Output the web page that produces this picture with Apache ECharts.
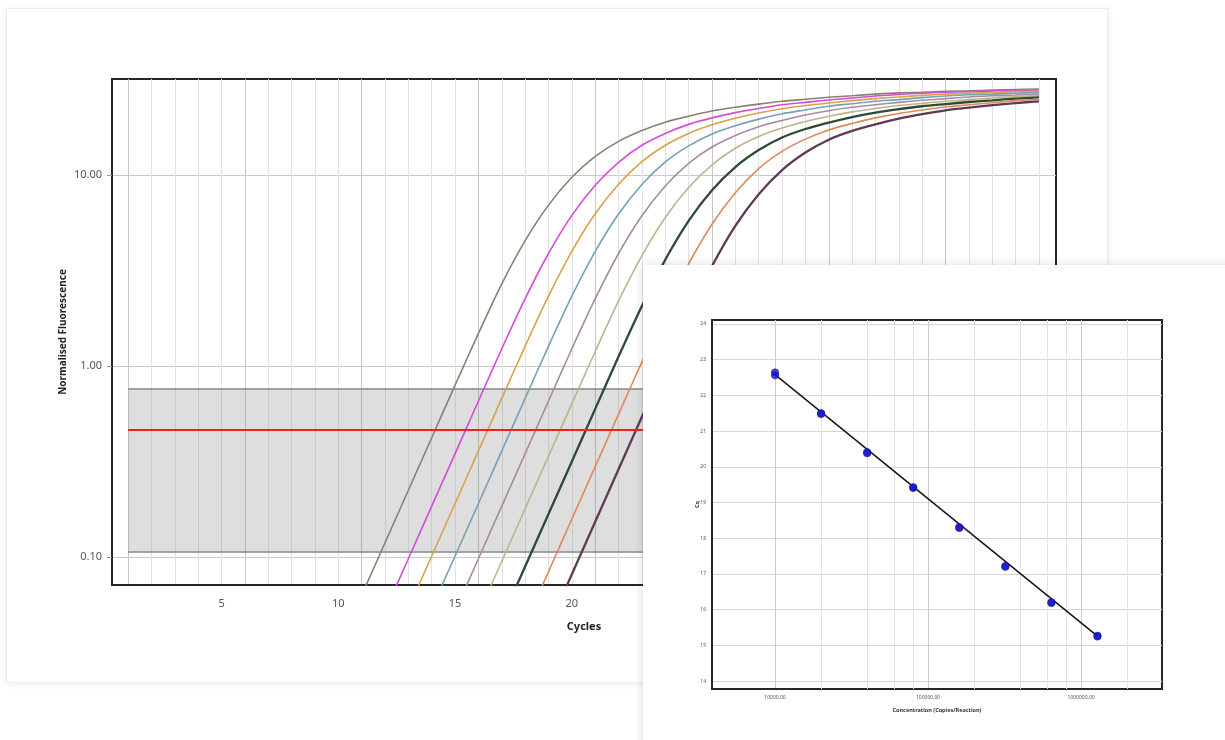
<!DOCTYPE html>
<html><head><meta charset="utf-8">
<script src="https://cdn.jsdelivr.net/npm/echarts@6/dist/echarts.min.js"></script>
<style>
html,body{margin:0;padding:0;background:#fff;width:1225px;height:740px;overflow:hidden;}
#card{position:absolute;left:6px;top:8px;width:1102px;height:675px;background:#fff;border:1px solid #ececec;box-sizing:border-box;box-shadow:0 1px 7px rgba(0,0,0,0.07);}
#main{position:absolute;left:0;top:0;width:1225px;height:740px;}
#insetCard{position:absolute;left:643px;top:265px;width:620px;height:520px;background:#fff;box-shadow:0 0 10px rgba(0,0,0,0.14);}
#inset{position:absolute;left:643px;top:265px;width:582px;height:475px;}
</style></head>
<body>
<div id="card"></div><div id="main"></div><div id="insetCard"></div><div id="inset"></div>
<script>
// ---------- Amplification plot data (Normalised Fluorescence per cycle) ----------
const cycleStart = [10, 12, 13, 14, 15, 16, 17, 18, 19];
const curve1 = [0.0334,0.0630,0.1186,0.2234,0.421,0.793,1.48,2.69,4.53,6.95,9.72,12.5,15.0,17.1,18.9,20.3,21.6,22.6,23.5,24.3,24.9,25.5,26.0,26.5,26.9,27.1,27.4,27.6,27.8,28.0,28.2];
const curve2 = [0.0520,0.0979,0.1845,0.3475,0.655,1.23,2.25,3.88,6.14,8.83,11.65,14.3,16.5,18.4,19.9,21.2,22.3,23.3,24.0,24.7,25.3,25.9,26.4,26.8,27.1,27.3,27.5,27.7,27.9];
const curve3 = [0.0537,0.1012,0.1905,0.359,0.676,1.27,2.32,3.98,6.26,8.95,11.74,14.3,16.5,18.3,19.8,21.1,22.2,23.1,23.8,24.5,25.1,25.6,26.1,26.5,26.8,27.0,27.3,27.4];
const curve4 = [0.0537,0.1012,0.1905,0.359,0.676,1.27,2.32,3.98,6.25,8.92,11.7,14.2,16.4,18.1,19.6,20.9,21.9,22.9,23.6,24.3,24.8,25.4,25.9,26.3,26.5,26.8,27.0];
const curve5 = [0.0520,0.0979,0.1845,0.3475,0.655,1.23,2.25,3.88,6.12,8.76,11.5,14.0,16.1,17.9,19.3,20.6,21.7,22.6,23.3,24.0,24.6,25.1,25.6,26.0,26.2,26.5];
const curve6 = [0.0504,0.0949,0.179,0.337,0.635,1.19,2.19,3.78,5.99,8.60,11.3,13.8,15.9,17.6,19.05,20.3,21.4,22.3,23.1,23.7,24.3,24.8,25.3,25.7,26.0];
const curve7 = [0.0473,0.0891,0.168,0.316,0.596,1.12,2.06,3.60,5.75,8.32,11.0,13.5,15.7,17.4,18.8,20.1,21.2,22.1,22.9,23.5,24.1,24.6,25.1,25.5];
const curve8 = [0.0444,0.0837,0.158,0.297,0.559,1.05,1.94,3.42,5.52,8.06,10.8,13.3,15.4,17.2,18.6,19.9,21.0,21.9,22.7,23.3,23.9,24.5,24.9];
const curve9 = [0.0431,0.0811,0.153,0.288,0.542,1.02,1.89,3.33,5.41,7.92,10.6,13.1,15.3,17.0,18.4,19.7,20.8,21.8,22.5,23.2,23.8,24.3];
const curveColors = ['#8b806f','#d44cd8','#d9a24a','#75a0b6','#a98a9f','#bcb48e','#2c4a34','#e0885a','#5f3a56'];
const curveWidths = [1.6,1.6,1.6,1.6,1.6,1.6,2.3,1.6,2.3];
const bandLow = 0.107, bandHigh = 0.758, threshold = 0.462;
const bandCycles = [1, 40];
const xTickLabels = [5,10,15,20,25,30,35,40];
const yTickLabels = [0.1, 1, 10];

// ---------- Standard curve data ----------
const conc = [10000,20000,40000,80000,160000,320000,640000,1280000];
const cqRep1 = [22.64,21.50,20.41,19.41,18.29,17.22,16.19,15.27];
const cqRep2 = [22.56,21.48,20.38,19.43,18.31,17.20,16.21,15.25];
const fitX = [10000, 1280000];
const fitY = [22.58, 15.26];
const insetMinorGrid = [20000,40000,60000,80000,200000,400000,600000,800000,2000000];

const FONT = 'Noto Sans';
const curves = [curve1,curve2,curve3,curve4,curve5,curve6,curve7,curve8,curve9];

const isPow10 = v => { const l = Math.log10(v); return Math.abs(l - Math.round(l)) < 1e-6; };

const mainSeries = curves.map((vals, i) => ({
  type: 'line', name: 'S' + (i + 1), silent: true, z: 3,
  data: vals.map((v, j) => [cycleStart[i] + j, v]),
  symbol: 'none', smooth: 0.3,
  lineStyle: { color: curveColors[i], width: curveWidths[i] }
}));
mainSeries.unshift({
  type: 'line', name: 'band', silent: true, z: 1, symbol: 'none',
  data: [[bandCycles[0], bandHigh]], lineStyle: { width: 0 },
  markArea: { silent: true, z: 1, itemStyle: { color: 'rgba(128,128,128,0.26)', borderWidth: 0 },
    data: [[{ coord: [bandCycles[0], bandHigh] }, { coord: [bandCycles[1], bandLow] }]] },
  markLine: { silent: true, z: 2, symbol: 'none', label: { show: false },
    lineStyle: { color: '#858585', width: 1.5, type: 'solid' },
    data: [[{ coord: [bandCycles[0], bandHigh] }, { coord: [bandCycles[1], bandHigh] }],
           [{ coord: [bandCycles[0], bandLow] }, { coord: [bandCycles[1], bandLow] }]] }
});
mainSeries.push({
  type: 'line', name: 'threshold', silent: true, z: 6, symbol: 'none',
  data: [[bandCycles[0], threshold]], lineStyle: { width: 0 },
  markLine: { silent: true, z: 6, symbol: 'none', label: { show: false },
    lineStyle: { color: '#f02020', width: 2, type: 'solid' },
    data: [[{ coord: [bandCycles[0], threshold] }, { coord: [bandCycles[1], threshold] }]] }
});

const main = echarts.init(document.getElementById('main'), null, { renderer: 'canvas' });
main.setOption({
  animation: false,
  textStyle: { fontFamily: FONT },
  grid: { left: 112, top: 79, right: 169, bottom: 155, show: true, borderColor: '#262626', borderWidth: 2, backgroundColor: 'transparent' },
  xAxis: {
    type: 'value', min: 0.31, max: 40.73, splitNumber: 40, minInterval: 1, maxInterval: 1,
    name: 'Cycles', nameLocation: 'middle', nameGap: 36, nameMoveOverlap: false,
    nameTextStyle: { fontFamily: FONT, fontWeight: 'bold', fontSize: 11, color: '#222' },
    axisLine: { show: true, onZero: false, lineStyle: { color: '#262626', width: 2 } },
    axisTick: { show: false },
    axisLabel: { interval: 0, margin: 13, fontSize: 11, color: '#555', fontFamily: FONT,
      formatter: v => (xTickLabels.indexOf(Math.round(v)) >= 0 && Math.abs(v - Math.round(v)) < 1e-6) ? String(Math.round(v)) : '' },
    splitLine: { show: true, showMinLine: false, showMaxLine: false,
      lineStyle: { width: 1, color: ['#c6c6c6','#e2e2e2','#e2e2e2','#e2e2e2','#e2e2e2'] } }
  },
  yAxis: {
    type: 'log', logBase: 10, min: 0.0713, max: 31.8,
    name: 'Normalised Fluorescence', nameLocation: 'middle', nameGap: 44, nameMoveOverlap: false,
    nameTextStyle: { fontFamily: FONT, fontWeight: 'bold', fontSize: 10, color: '#222' },
    axisLine: { show: true, onZero: false, lineStyle: { color: '#262626', width: 2 } },
    axisTick: { show: true, length: 5, lineStyle: { color: '#999' } },
    axisLabel: { margin: 10, fontSize: 11, color: '#555', fontFamily: FONT, showMinLabel: false, showMaxLabel: false,
      formatter: v => (isPow10(v) && yTickLabels.some(t => Math.abs(t - v) / t < 1e-6)) ? v.toFixed(2) : '' },
    splitLine: { show: true, showMinLine: false, showMaxLine: false, lineStyle: { color: '#c9c9c9', width: 1 } }
  },
  series: mainSeries
});

// ---------- Inset ----------
const inset = echarts.init(document.getElementById('inset'), null, { renderer: 'canvas' });
inset.setOption({
  animation: false,
  textStyle: { fontFamily: FONT },
  grid: { left: 69, top: 55, right: 63, bottom: 51, show: true, borderColor: '#262626', borderWidth: 2, backgroundColor: 'transparent' },
  xAxis: {
    type: 'log', logBase: 10, min: 3873, max: 3380000,
    name: 'Concentration (Copies/Reaction)', nameLocation: 'middle', nameGap: 18, nameMoveOverlap: false,
    nameTextStyle: { fontFamily: FONT, fontWeight: 'bold', fontSize: 5.5, color: '#333' },
    axisLine: { show: true, onZero: false, lineStyle: { color: '#262626', width: 2 } },
    axisTick: { show: false },
    axisLabel: { margin: 6, fontSize: 5, color: '#555', fontFamily: FONT, showMinLabel: false, showMaxLabel: false,
      formatter: v => isPow10(v) ? v.toFixed(2) : '' },
    splitLine: { show: true, showMinLine: false, showMaxLine: false, lineStyle: { color: '#cdcdcd', width: 1 } }
  },
  yAxis: {
    type: 'value', min: 13.78, max: 24.11, splitNumber: 10, minInterval: 1, maxInterval: 1,
    name: 'Cq', nameLocation: 'middle', nameGap: 12, nameMoveOverlap: false,
    nameTextStyle: { fontFamily: FONT, fontWeight: 'bold', fontSize: 5.5, color: '#333' },
    axisLine: { show: true, onZero: false, lineStyle: { color: '#262626', width: 2 } },
    axisTick: { show: false },
    axisLabel: { margin: 6, fontSize: 5, color: '#555', fontFamily: FONT,
      formatter: v => Math.abs(v - Math.round(v)) < 1e-6 ? String(Math.round(v)) : '' },
    splitLine: { show: true, showMinLine: false, showMaxLine: false, lineStyle: { color: '#d6d6d6', width: 1 } }
  },
  series: [
    { type: 'line', name: 'fit', silent: true, z: 3, symbol: 'none',
      data: fitX.map((x, i) => [x, fitY[i]]), lineStyle: { color: '#151515', width: 1.5 },
      markLine: { silent: true, z: 1, symbol: 'none', label: { show: false },
        lineStyle: { color: '#e3e3e3', width: 1, type: 'solid' },
        data: insetMinorGrid.map(v => ({ xAxis: v })) } },
    { type: 'scatter', name: 'rep1', silent: true, z: 4, symbolSize: 7.5,
      data: conc.map((x, i) => [x, cqRep1[i]]), itemStyle: { color: '#1818d0', borderColor: '#0b0b8a', borderWidth: 0.5 } },
    { type: 'scatter', name: 'rep2', silent: true, z: 4, symbolSize: 7.5,
      data: conc.map((x, i) => [x, cqRep2[i]]), itemStyle: { color: '#1818d0', borderColor: '#0b0b8a', borderWidth: 0.5 } }
  ]
});
</script>
</body></html>
